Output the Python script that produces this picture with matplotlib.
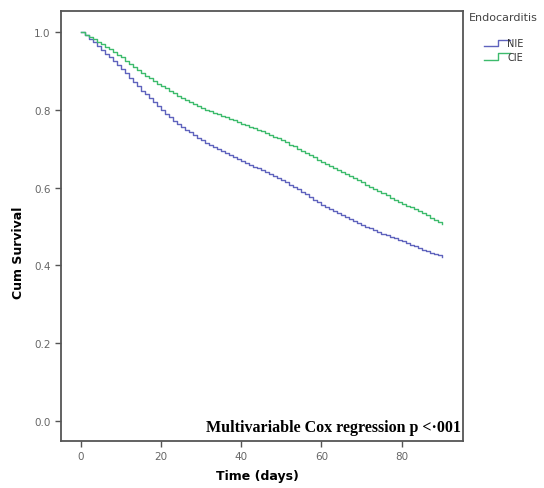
import matplotlib
matplotlib.use("Agg")
import matplotlib.pyplot as plt
from matplotlib.lines import Line2D
import numpy as np

# Survival estimates, one value per day (0..90)
days = list(range(0, 91))
nie = [1.000, 0.992, 0.983, 0.974, 0.965, 0.955, 0.945, 0.935, 0.925, 0.915, 0.905,
       0.894, 0.883, 0.872, 0.861, 0.850, 0.840, 0.830, 0.820, 0.810, 0.800,
       0.790, 0.781, 0.772, 0.764, 0.756, 0.749, 0.742, 0.735, 0.728, 0.722,
       0.716, 0.711, 0.705, 0.700, 0.695, 0.690, 0.684, 0.679, 0.673, 0.668,
       0.663, 0.659, 0.654, 0.650, 0.645, 0.640, 0.635, 0.630, 0.625, 0.620,
       0.614, 0.608, 0.602, 0.596, 0.590, 0.583, 0.576, 0.569, 0.562, 0.555,
       0.550, 0.545, 0.540, 0.535, 0.530, 0.525, 0.520, 0.515, 0.510, 0.505,
       0.500, 0.496, 0.491, 0.487, 0.482, 0.478, 0.474, 0.470, 0.466, 0.462,
       0.458, 0.453, 0.449, 0.444, 0.440, 0.436, 0.433, 0.429, 0.426, 0.422]
cie = [1.000, 0.994, 0.988, 0.982, 0.976, 0.970, 0.963, 0.956, 0.949, 0.942, 0.935,
       0.927, 0.919, 0.911, 0.903, 0.895, 0.888, 0.882, 0.875, 0.868, 0.862,
       0.856, 0.849, 0.843, 0.836, 0.830, 0.825, 0.820, 0.815, 0.810, 0.805,
       0.801, 0.797, 0.793, 0.789, 0.785, 0.781, 0.777, 0.773, 0.769, 0.765,
       0.761, 0.757, 0.753, 0.749, 0.745, 0.740, 0.736, 0.731, 0.727, 0.722,
       0.717, 0.711, 0.706, 0.700, 0.695, 0.689, 0.683, 0.678, 0.672, 0.666,
       0.661, 0.656, 0.650, 0.645, 0.640, 0.635, 0.630, 0.624, 0.619, 0.614,
       0.608, 0.602, 0.597, 0.591, 0.585, 0.580, 0.574, 0.569, 0.563, 0.558,
       0.553, 0.549, 0.544, 0.540, 0.535, 0.529, 0.523, 0.518, 0.512, 0.506]
groups = ["NIE", "CIE"]
colors = ["#5f63bd", "#3dbb6c"]
xticks = [0, 20, 40, 60, 80]
yticks = [0.0, 0.2, 0.4, 0.6, 0.8, 1.0]

fig = plt.figure(figsize=(5.44, 4.89), dpi=100)
ax = fig.add_axes([0.112, 0.096, 0.739, 0.879])

for vals, col in zip([nie, cie], colors):
    ax.plot(days, vals, drawstyle="steps-post", color=col, lw=1.0)

ax.set_xlim(-4.9, 95.3)
ax.set_ylim(-0.052, 1.054)
ax.set_xticks(xticks)
ax.set_yticks(yticks)
ax.set_xticklabels([str(t) for t in xticks])
ax.set_yticklabels([f"{t:.1f}" for t in yticks])

gray = "#555555"
for sp in ax.spines.values():
    sp.set_color(gray)
    sp.set_linewidth(1.3)
ax.tick_params(direction="out", length=4, width=1, color=gray,
               labelcolor="#666666", labelsize=7.5)

ax.set_xlabel("Time (days)", fontsize=9, fontweight="bold")
ax.set_ylabel("Cum Survival", fontsize=9, fontweight="bold")
ax.xaxis.set_label_coords(0.49, -0.065)
ax.yaxis.set_label_coords(-0.09, 0.44)

ax.text(0.995, 0.033, "Multivariable Cox regression p <\u00b7001",
        transform=ax.transAxes, ha="right", va="center",
        family="Liberation Serif", fontweight="bold", fontsize=11.5)

# legend outside the frame
fig.text(0.862, 0.963, "Endocarditis", fontsize=8, color="#444444", va="center")
for i, (g, col) in enumerate(zip(groups, colors)):
    yc = 0.910 - i * 0.028
    xs = [0.890, 0.915, 0.915, 0.938]
    ys = [yc - 0.007, yc - 0.007, yc + 0.007, yc + 0.007]
    fig.add_artist(Line2D(xs, ys, color=col, lw=1, transform=fig.transFigure))
    fig.text(0.932, yc, g, fontsize=7, color="#333333", va="center")

fig.savefig("out.png", dpi=100)
